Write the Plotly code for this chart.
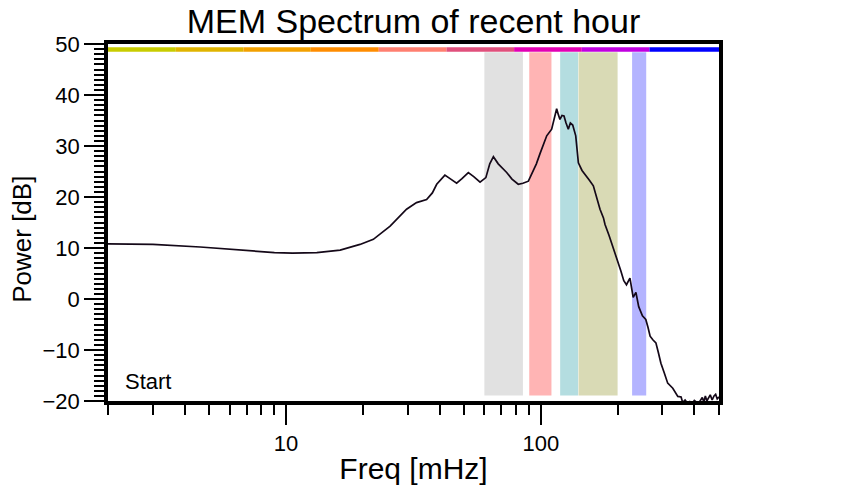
import numpy as np
import plotly.graph_objects as go

# MEM power spectrum
freq_mhz = [
    2, 3, 4.6, 6, 7.2, 9, 10.6, 13.2, 16.3, 19.5, 22, 25.6, 29.7, 32.5, 35.6,
    37.5, 39, 42, 44, 46.7, 49, 51.9, 54.5, 57.7, 60.8, 63, 65.1, 68, 73.4, 77,
    81.5, 85, 89.3, 92, 96, 99.2, 105.4, 110.2, 113, 115.3, 117, 118.8, 121,
    123.2, 125.5, 128.1, 130.5, 133.3, 137, 140.3, 145, 151.2, 155, 160.6,
    165.7, 170.6, 176, 178.5, 185, 192.9, 200, 206, 211.5, 216.7, 223.6, 230.2,
    236, 242, 250.3, 258, 263, 268.3, 275, 282.7, 289, 295.8, 305, 314.5, 329.3,
    336, 344.6, 355, 360, 368, 376, 384, 392, 400, 410, 420, 430, 436, 442, 448,
    455, 462, 470, 478, 485, 492, 500,
]
power_db = [
    10.8, 10.7, 10.2, 9.8, 9.4, 9.1, 9.0, 9.1, 9.6, 10.7, 11.7, 14.3, 17.6, 18.9,
    19.5, 20.8, 22.5, 24.3, 23.6, 22.7, 23.6, 24.8, 24.0, 22.9, 23.8, 26.5, 27.9,
    26.5, 24.8, 23.5, 22.5, 22.7, 23.1, 24.5, 26.5, 28.5, 32.0, 33.3, 35.5, 37.3,
    36.2, 35.2, 36.0, 35.9, 34.5, 33.3, 34.5, 34.1, 32.0, 26.7, 25.2, 24.1, 23.3,
    22.2, 19.8, 17.6, 15.9, 14.6, 12.5, 9.9, 7.6, 5.5, 3.6, 2.8, 4.1, 0.3, 1.3,
    -1.5, -3.3, -4.0, -5.5, -7.3, -8.0, -8.6, -10.5, -12.6, -14.5, -16.5, -17.5,
    -18.3, -19.1, -19.2, -20.3, -19.8, -20.4, -20.1, -20.5, -19.9, -20.3, -20.1,
    -19.3, -20.2, -19.0, -20.0, -19.3, -18.8, -19.8, -19.0, -18.7, -19.6, -19.2,
]

# shaded frequency bands (mHz)
band_lo = [60, 90, 119, 140.5, 228]
band_hi = [85, 110, 140, 200, 259]
band_colors = ["#e1e1e1", "#ffb4b4", "#b4dde0", "#d9dab5", "#b4b4ff"]
band_y = [-18.9, 48.4]

# coloured strip along the top
strip_edges = [2, 3.69, 6.8, 12.5, 23.1, 42.6, 78.5, 144.7, 266.8, 500]
strip_colors = ["#c8cc00", "#e0b400", "#f2a000", "#ff8c00", "#ff7f70",
                "#e0507c", "#e200b4", "#c000e0", "#0000ff"]
strip_db = 48.9

fig = go.Figure()

for lo, hi, col in zip(band_lo, band_hi, band_colors):
    fig.add_trace(go.Scatter(
        x=[lo, hi, hi, lo, lo],
        y=[band_y[0], band_y[0], band_y[1], band_y[1], band_y[0]],
        mode="lines", fill="toself", fillcolor=col,
        line=dict(width=0, color=col), hoverinfo="skip",
    ))

for i, col in enumerate(strip_colors):
    fig.add_trace(go.Scatter(
        x=[strip_edges[i], strip_edges[i + 1]], y=[strip_db, strip_db],
        mode="lines", line=dict(color=col, width=4.5), hoverinfo="skip",
    ))

fig.add_trace(go.Scatter(
    x=freq_mhz, y=power_db, mode="lines",
    line=dict(color="#140818", width=1.7),
))

fig.add_annotation(
    text="Start", xref="paper", yref="y", x=0.024, y=-16.1,
    xanchor="left", yanchor="middle", showarrow=False,
    font=dict(size=22, color="black"),
)
# y title sits a little below the plot centre in the reference
fig.add_annotation(
    text="Power [dB]", xref="paper", yref="paper", x=-0.141, y=0.454,
    textangle=-90, xanchor="center", yanchor="middle", showarrow=False,
    font=dict(size=26, color="black"),
)

axis_style = dict(
    showline=True, linecolor="black", linewidth=3.5, mirror=True,
    showgrid=False, zeroline=False, ticks="outside", tickcolor="black",
    tickwidth=2, ticklen=20, tickfont=dict(size=22, color="black"),
)

fig.update_xaxes(
    type="log", range=[np.log10(2), np.log10(500)],
    tickvals=[10, 100], ticktext=["10", "100"],
    minor=dict(ticks="outside", ticklen=10, tickwidth=1.5, tickcolor="black",
               tickvals=[2, 3, 4, 5, 6, 7, 8, 9, 20, 30, 40, 50, 60, 70, 80, 90,
                         200, 300, 400, 500]),
    title=dict(text="Freq [mHz]", font=dict(size=30, color="black"), standoff=4),
    **axis_style,
)
fig.update_yaxes(
    range=[-20, 50], dtick=10,
    minor=dict(ticks="outside", ticklen=10, tickwidth=1.5, tickcolor="black", dtick=1),
    **axis_style,
)

# the page adds an 8 px body margin, so the figure is 8 px smaller each way
fig.update_layout(
    width=834, height=492,
    margin=dict(l=100, r=123, t=36, b=99),
    paper_bgcolor="white", plot_bgcolor="white",
    font=dict(family="Liberation Sans, Arial, sans-serif", color="black"),
    showlegend=False,
    title=dict(text="MEM Spectrum of recent hour", x=0.5, xref="paper",
               y=0.998, yanchor="top", pad=dict(t=0),
               font=dict(size=34, color="black")),
)

fig.write_html("out.html")
